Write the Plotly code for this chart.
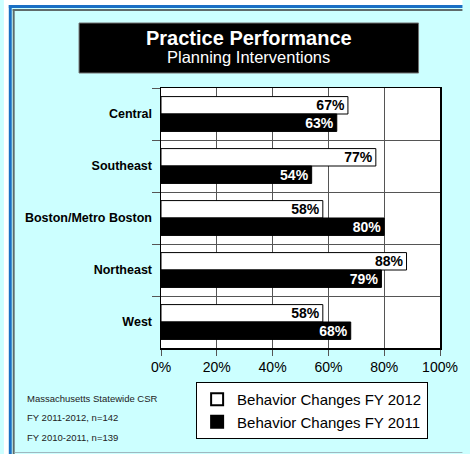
import plotly.graph_objects as go

categories = ["Central", "Southeast", "Boston/Metro Boston", "Northeast", "West"]
fy2012 = [67, 77, 58, 88, 58]
fy2011 = [63, 54, 80, 79, 68]
series_names = ["Behavior Changes FY 2012", "Behavior Changes FY 2011"]
x_ticks = [0, 20, 40, 60, 80, 100]
x_ticklabels = ["0%", "20%", "40%", "60%", "80%", "100%"]
notes = ["Massachusetts Statewide CSR", "FY 2011-2012, n=142", "FY 2010-2011, n=139"]
title = "Practice Performance"
subtitle = "Planning Interventions"

W, H = 470, 454
L, R, T, B = 161, 447, 88, 348
FONT = "Liberation Sans, Arial, Helvetica, sans-serif"


def px(x):
    return (x - L) / (R - L)


def py(y):
    return (B - y) / (B - T)


fig = go.Figure()
fig.add_trace(go.Bar(
    y=categories, x=fy2012, orientation="h", name=series_names[0],
    marker=dict(color="white", line=dict(color="black", width=1)),
    text=[f"{v}%" for v in fy2012], textposition="inside", insidetextanchor="end",
    textfont=dict(family=FONT, size=14, color="black", weight="bold"),
    constraintext="none", cliponaxis=False,
))
fig.add_trace(go.Bar(
    y=categories, x=fy2011, orientation="h", name=series_names[1],
    marker=dict(color="black", line=dict(color="black", width=1)),
    text=[f"{v}%" for v in fy2011], textposition="inside", insidetextanchor="end",
    textfont=dict(family=FONT, size=14, color="white", weight="bold"),
    constraintext="none", cliponaxis=False,
))

shapes = []
# outer frame
shapes.append(dict(type="rect", xref="paper", yref="paper", x0=px(0), x1=px(W), y0=py(0), y1=py(5),
                   fillcolor="white", line=dict(width=0), layer="below"))
shapes.append(dict(type="rect", xref="paper", yref="paper", x0=px(0), x1=px(5), y0=py(0), y1=py(H),
                   fillcolor="white", line=dict(width=0), layer="below"))
shapes.append(dict(type="rect", xref="paper", yref="paper", x0=px(5), x1=px(W), y0=py(5), y1=py(8),
                   fillcolor="#1a6fc4", line=dict(width=0), layer="below"))
shapes.append(dict(type="rect", xref="paper", yref="paper", x0=px(5), x1=px(8), y0=py(5), y1=py(H),
                   fillcolor="#1a6fc4", line=dict(width=0), layer="below"))
shapes.append(dict(type="rect", xref="paper", yref="paper", x0=px(9), x1=px(W), y0=py(9), y1=py(11),
                   fillcolor="#5f6b6b", line=dict(width=0), layer="below"))
shapes.append(dict(type="rect", xref="paper", yref="paper", x0=px(9), x1=px(11), y0=py(9), y1=py(H),
                   fillcolor="#5f6b6b", line=dict(width=0), layer="below"))
shapes.append(dict(type="line", xref="paper", yref="paper", x0=px(11), x1=px(W), y0=py(452.5), y1=py(452.5),
                   line=dict(color="#9fb8c0", width=1), layer="below"))
# title box
shapes.append(dict(type="rect", xref="paper", yref="paper", x0=px(77), x1=px(425), y0=py(23), y1=py(73),
                   fillcolor="black", line=dict(color="#707070", width=1), layer="below"))

annotations = [
    dict(text=f"<b>{title}</b>", xref="paper", yref="paper", x=px(251), y=py(38), showarrow=False,
         font=dict(family=FONT, size=20, color="white"), xanchor="center", yanchor="middle"),
    dict(text=subtitle, xref="paper", yref="paper", x=px(251), y=py(57.5), showarrow=False,
         font=dict(family=FONT, size=16.5, color="white"), xanchor="center", yanchor="middle"),
]
for i, (note, yy) in enumerate(zip(notes, [398, 417.5, 437])):
    annotations.append(dict(text=note, xref="paper", yref="paper", x=px(22), y=py(yy), showarrow=False,
                            font=dict(family=FONT, size=9.5, color="#222"), xanchor="left", yanchor="middle"))

fig.update_layout(
    width=W, height=H,
    margin=dict(l=L, r=W - R, t=T, b=H - B, pad=0),
    paper_bgcolor="#ccffff", plot_bgcolor="white",
    barmode="group", bargap=0.33, bargroupgap=0,
    font=dict(family=FONT, color="black"),
    showlegend=True,
    legend=dict(x=px(197), y=py(382), xanchor="left", yanchor="top",
                bgcolor="white", bordercolor="black", borderwidth=1,
                font=dict(family=FONT, size=15, color="black"),
                traceorder="normal", tracegroupgap=4, itemsizing="constant"),
    shapes=shapes, annotations=annotations,
    xaxis=dict(range=[0, 100], tickvals=x_ticks, ticktext=x_ticklabels,
               showgrid=True, gridcolor="#555555", gridwidth=1,
               showline=True, linecolor="black", linewidth=1.5, mirror=True,
               ticks="outside", ticklen=6, tickcolor="#555555",
               tickfont=dict(family=FONT, size=14, color="black"), zeroline=False, fixedrange=True),
    yaxis=dict(categoryorder="array", categoryarray=categories, autorange="reversed",
               tickson="boundaries", showgrid=True, gridcolor="#555555", gridwidth=1,
               showline=True, linecolor="black", linewidth=1.5, mirror=True,
               ticks="outside", ticklen=8, tickcolor="#555555", ticklabelstandoff=5,
               tickfont=dict(family=FONT, size=12.5, color="black", weight="bold"), fixedrange=True),
)

fig.write_html("out.html", config={"displayModeBar": False, "staticPlot": True},
               post_script="document.documentElement.style.overflow='hidden';"
                           "document.body.style.margin='0';document.body.style.overflow='hidden';")
